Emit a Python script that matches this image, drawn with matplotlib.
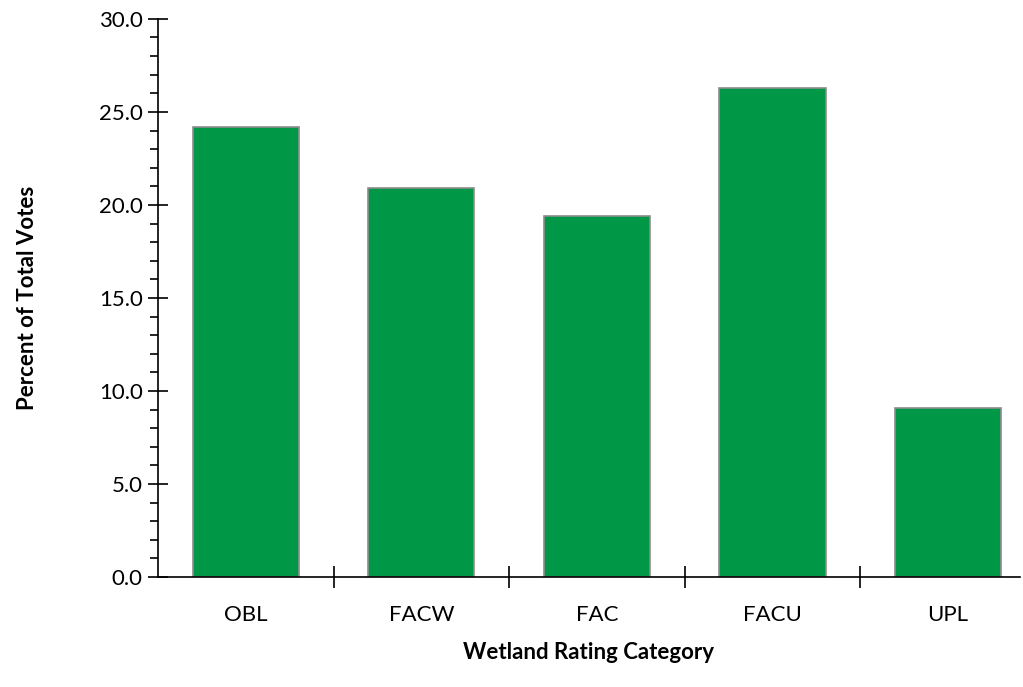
import numpy as np
import matplotlib
matplotlib.use("Agg")
import matplotlib.pyplot as plt
from matplotlib.ticker import MultipleLocator, FixedLocator

categories = ["OBL", "FACW", "FAC", "FACU", "UPL"]
percent_votes = [24.2, 20.9, 19.4, 26.3, 9.1]

plt.rcParams['font.family'] = ['Lato', 'DejaVu Sans']

fig = plt.figure(figsize=(10.23, 6.87), dpi=100)
ax = fig.add_axes([0.1545, 0.160, 0.8425, 0.8125])

x = np.arange(len(categories))
ax.bar(x, percent_votes, width=0.605, color="#009846", edgecolor="#8c8c8c", linewidth=1.2, zorder=2)

# the original chart is cropped on the right, so the last category is cut short
ax.set_xlim(-0.5, len(categories) - 0.59)
ax.set_ylim(0, 30)

ax.spines['top'].set_visible(False)
ax.spines['right'].set_visible(False)
ax.spines['left'].set_linewidth(1.2)
ax.spines['bottom'].set_linewidth(1.2)

# y axis
ax.yaxis.set_major_locator(MultipleLocator(5))
ax.yaxis.set_minor_locator(MultipleLocator(1))
ax.yaxis.set_major_formatter(matplotlib.ticker.FormatStrFormatter('%.1f'))
ax.tick_params(axis='y', which='major', direction='inout', length=14, width=1.2, labelsize=16, pad=4)
ax.tick_params(axis='y', which='minor', direction='out', length=6, width=1.2)

# x axis: labels at centers, tick marks between categories
ax.set_xticks(x)
ax.set_xticklabels(categories)
ax.xaxis.set_minor_locator(FixedLocator(np.arange(0.5, len(categories) - 1, 1.0)))
ax.tick_params(axis='x', which='major', length=0, labelsize=16, pad=20)
ax.tick_params(axis='x', which='minor', direction='inout', length=16, width=1.2)

ax.set_xlabel("Wetland Rating Category", fontsize=16, fontweight='bold', labelpad=12)
ax.set_ylabel("Percent of Total Votes", fontsize=16, fontweight='bold', labelpad=44)

fig.savefig("out.png", dpi=100)
